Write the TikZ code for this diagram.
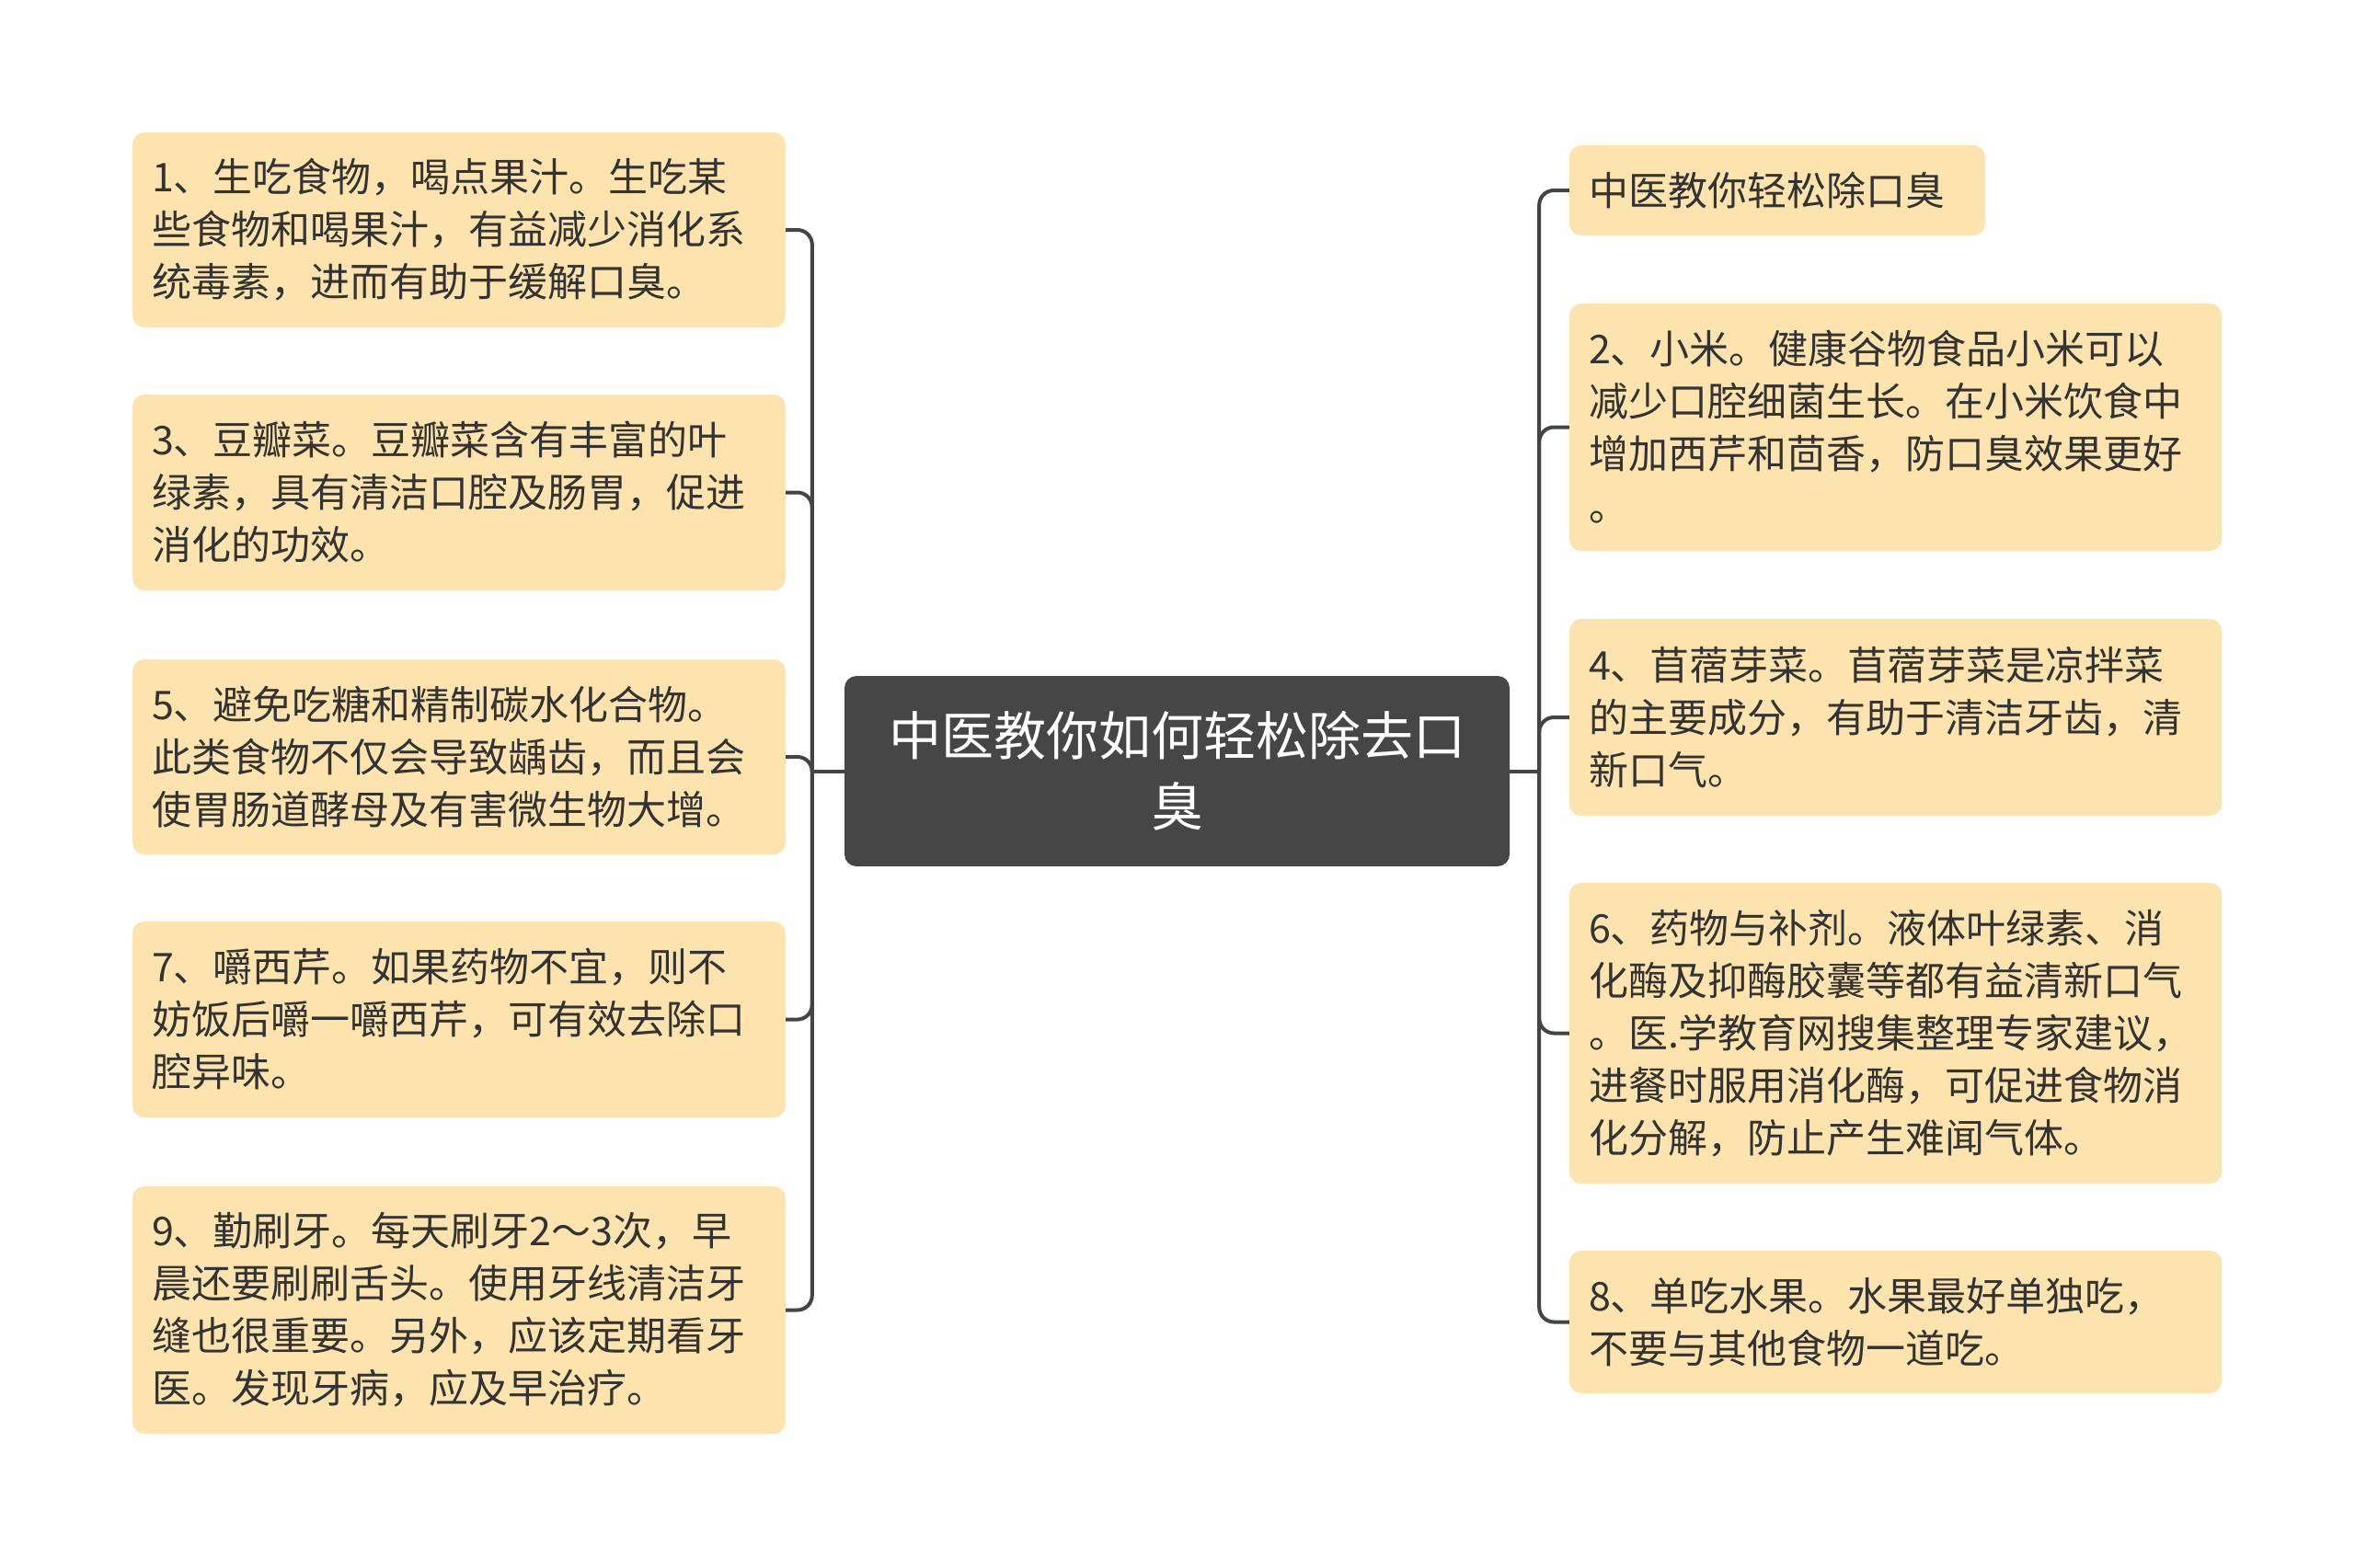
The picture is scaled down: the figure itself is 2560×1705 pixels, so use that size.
\documentclass[tikz,border=0pt]{standalone}
\usepackage{fontspec}
\setmainfont{Noto Sans CJK SC}
\definecolor{boxfill}{HTML}{FDE4AE}
\definecolor{txt}{HTML}{333333}
\definecolor{linec}{HTML}{444444}
\definecolor{rootfill}{HTML}{464646}
\begin{document}
\begin{tikzpicture}[x=1pt,y=-1pt,
  leaf/.style={draw=none, fill=boxfill, rounded corners=13pt, text=txt,
    font=\fontsize{43}{57}\selectfont, align=left, inner xsep=0pt, inner ysep=0pt,
    anchor=center},
  lw/.style={minimum width=710pt, text width=668pt},
  rw/.style={minimum width=709pt, text width=667pt},
  root/.style={draw=none, fill=rootfill, rounded corners=13pt, text=white,
    font=\fontsize{57}{77}\selectfont, align=center, inner sep=0pt,
    minimum width=723pt, minimum height=207pt, text width=680pt},
  link/.style={draw=linec, line width=4pt, rounded corners=16pt}]
\fill[white] (0,0) rectangle (2560,1705);
\useasboundingbox (0,0) rectangle (2560,1705);

\node[root] (c) at (1279.5,838.5) {中医教你如何轻松除去口\\臭};

\node[leaf,lw,minimum height=212pt] (b1) at (499,250) {1、生吃食物，喝点果汁。生吃某\\些食物和喝果汁，有益减少消化系\\统毒素，进而有助于缓解口臭。};
\node[leaf,lw,minimum height=213pt] (b3) at (499,535.5) {3、豆瓣菜。豆瓣菜含有丰富的叶\\绿素，具有清洁口腔及肠胃，促进\\消化的功效。};
\node[leaf,lw,minimum height=212pt] (b5) at (499,823) {5、避免吃糖和精制碳水化合物。\\此类食物不仅会导致龋齿，而且会\\使胃肠道酵母及有害微生物大增。};
\node[leaf,lw,minimum height=213pt] (b7) at (499,1108.5) {7、嚼西芹。如果药物不宜，则不\\妨饭后嚼一嚼西芹，可有效去除口\\腔异味。};
\node[leaf,lw,minimum height=269pt] (b9) at (499,1424.5) {9、勤刷牙。每天刷牙2～3次，早\\晨还要刷刷舌头。使用牙线清洁牙\\缝也很重要。另外，应该定期看牙\\医。发现牙病，应及早治疗。};

\node[leaf,minimum width=452pt,text width=410pt,minimum height=98pt] (r1) at (1932,207) {中医教你轻松除口臭};
\node[leaf,rw,minimum height=269pt] (r2) at (2060.5,464.5) {2、小米。健康谷物食品小米可以\\减少口腔细菌生长。在小米饮食中\\增加西芹和茴香，防口臭效果更好\\。};
\node[leaf,rw,minimum height=214pt] (r4) at (2060.5,780) {4、苜蓿芽菜。苜蓿芽菜是凉拌菜\\的主要成分，有助于清洁牙齿，清\\新口气。};
\node[leaf,rw,minimum height=327pt] (r6) at (2060.5,1123.5) {6、药物与补剂。液体叶绿素、消\\化酶及抑酶胶囊等都有益清新口气\\。医.学教育网搜集整理专家建议，\\进餐时服用消化酶，可促进食物消\\化分解，防止产生难闻气体。};
\node[leaf,rw,minimum height=155pt] (r8) at (2060.5,1437.5) {8、单吃水果。水果最好单独吃，\\不要与其他食物一道吃。};

% left connectors
\draw[link] (c.west) -- ++(-35,0) coordinate (lt);
\foreach \b in {b1,b3,b5,b7,b9} \draw[link] (lt) |- (\b.east);
% right connectors
\draw[link] (c.east) -- ++(32,0) coordinate (rt);
\foreach \b in {r1,r2,r4,r6,r8} \draw[link] (rt) |- (\b.west);
\end{tikzpicture}
\end{document}
